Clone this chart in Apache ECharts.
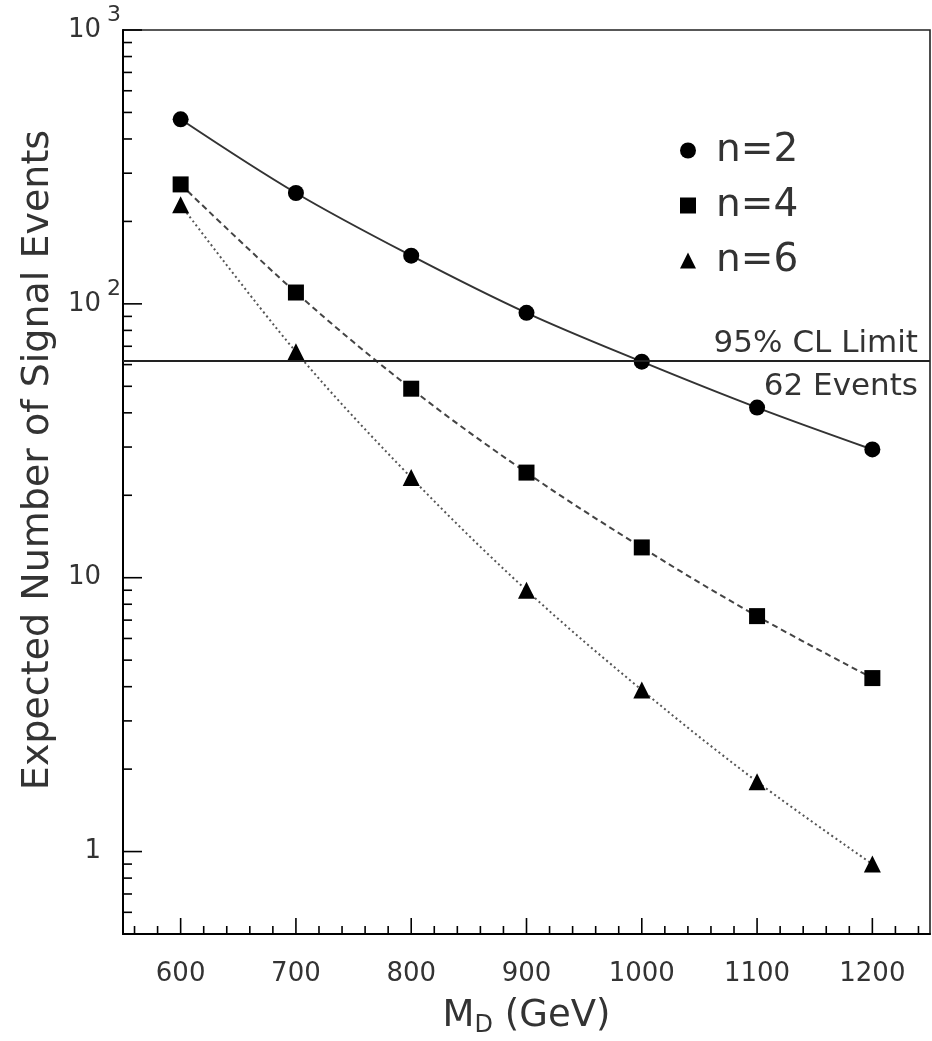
<!DOCTYPE html>
<html>
<head>
<meta charset="utf-8">
<script src="https://cdn.jsdelivr.net/npm/echarts@6/dist/echarts.min.js"></script>
<style>
  html, body { margin: 0; padding: 0; background: #fff; }
  #chart { width: 932px; height: 1041px; }
</style>
</head>
<body>
<div id="chart"></div>
<script>
// Mass scale M_D (GeV) and expected signal counts for n = 2, 4, 6 extra dimensions
const massGeV  = [600, 700, 800, 900, 1000, 1100, 1200];
const eventsN2 = [472, 254, 150, 92.7, 61.5, 41.8, 29.4];
const eventsN4 = [273, 110, 49.0, 24.2, 12.9, 7.24, 4.30];
const eventsN6 = [230, 66.8, 23.2, 9.0, 3.89, 1.80, 0.90];

// 95% CL upper limit on the number of signal events
const clLimit = 62;
const clLabelTop = '95% CL Limit';
const clLabelBottom = '62 Events';

// Axis ranges and tick labels
const xMin = 550, xMax = 1250;
const yMin = 0.5, yMax = 1000;
const xLabelValues = [600, 700, 800, 900, 1000, 1100, 1200];
const yLabelValues = [1, 10, 100, 1000];
const yLabelBase   = ['1', '10', '10', '10'];
const yLabelExp    = ['', '', '2', '3'];

const FONT = 'DejaVu Sans';
const TEXT = '#333';

// Tick marks: x every 20 GeV (major every 100), y at 1..9 x 10^k (major at powers of ten)
const xTicks = [];
for (let v = 560; v <= 1240; v += 20) xTicks.push([v, yMin, v % 100 === 0 ? 1 : 0]);
const yTicks = [];
[0.1, 1, 10, 100].forEach(dec => {
  for (let k = 1; k <= 9; k++) {
    const v = +(k * dec).toPrecision(3);
    if (v > yMin && v <= yMax) yTicks.push([xMin, v, k === 1 ? 1 : 0]);
  }
});
yTicks.push([xMin, 1000, 1]);

const pairs = ys => massGeV.map((x, i) => [x, ys[i]]);

function renderXTick(params, api) {
  const p = api.coord([api.value(0), api.value(1)]);
  const len = api.value(2) === 1 ? 16 : 8;
  return { type: 'line', shape: { x1: p[0], y1: p[1], x2: p[0], y2: p[1] - len },
           style: { stroke: '#000', lineWidth: 1.6 } };
}
function renderYTick(params, api) {
  const p = api.coord([api.value(0), api.value(1)]);
  const len = api.value(2) === 1 ? 19 : 9;
  return { type: 'line', shape: { x1: p[0], y1: p[1], x2: p[0] + len, y2: p[1] },
           style: { stroke: '#000', lineWidth: 1.6 } };
}
function renderYLabel(params, api) {
  const p = api.coord([api.value(0), api.value(1)]);
  const i = api.value(2);
  const children = [{
    type: 'text', x: p[0] - 22, y: p[1],
    style: { text: yLabelBase[i], align: 'right', verticalAlign: 'middle',
             fontSize: 26, fontFamily: FONT, fill: TEXT }
  }];
  if (yLabelExp[i]) {
    children.push({
      type: 'text', x: p[0] - 16, y: p[1] - 15,
      style: { text: yLabelExp[i], align: 'left', verticalAlign: 'middle',
               fontSize: 22, fontFamily: FONT, fill: TEXT }
    });
  }
  return { type: 'group', children };
}

const chart = echarts.init(document.getElementById('chart'), null, { renderer: 'canvas' });
chart.setOption({
  backgroundColor: '#fff',
  animation: false,
  grid: { left: 123, right: 2, top: 30, bottom: 107, show: true,
          containLabel: false, outerBoundsMode: 'none',
          borderColor: '#222', borderWidth: 1.6, backgroundColor: 'transparent' },
  legend: {
    orient: 'vertical', left: 675, top: 126,
    itemWidth: 16, itemHeight: 16, itemGap: 16, selectedMode: false,
    textStyle: { fontSize: 39, lineHeight: 39, fontFamily: FONT, color: TEXT, padding: [0, 0, 0, 15] },
    data: [
      { name: 'n=2', icon: 'circle' },
      { name: 'n=4', icon: 'rect' },
      { name: 'n=6', icon: 'triangle' }
    ]
  },
  xAxis: {
    type: 'value', min: xMin, max: xMax, interval: 50,
    name: '{m|M}{d|D}{m| (GeV)}', nameLocation: 'middle', nameGap: 60,
    nameTextStyle: {
      rich: {
        m: { fontSize: 37, fontFamily: FONT, color: TEXT, lineHeight: 44, verticalAlign: 'middle' },
        d: { fontSize: 24, fontFamily: FONT, color: TEXT, lineHeight: 24, verticalAlign: 'bottom' }
      }
    },
    axisLine: { show: true, lineStyle: { color: '#000', width: 2 } },
    axisTick: { show: false },
    splitLine: { show: false },
    axisLabel: {
      margin: 27, fontSize: 26, fontFamily: FONT, color: TEXT,
      formatter: v => (xLabelValues.indexOf(v) >= 0 ? String(v) : '')
    }
  },
  yAxis: {
    type: 'log', logBase: 10, min: yMin, max: yMax,
    name: 'Expected Number of Signal Events', nameLocation: 'middle', nameGap: 66,
    nameTextStyle: { fontSize: 38, fontFamily: FONT, color: TEXT, padding: [0, 0, 0, 44] },
    axisLine: { show: true, lineStyle: { color: '#000', width: 2 } },
    axisTick: { show: false },
    splitLine: { show: false },
    axisLabel: { show: false }
  },
  series: [
    {
      name: 'n=6', type: 'line', data: pairs(eventsN6), smooth: 0.35,
      symbol: 'triangle', symbolSize: 17,
      itemStyle: { color: '#000' },
      lineStyle: { color: '#555', width: 2, type: [2, 3] },
      z: 3
    },
    {
      name: 'n=4', type: 'line', data: pairs(eventsN4), smooth: 0.35,
      symbol: 'rect', symbolSize: 16,
      itemStyle: { color: '#000' },
      lineStyle: { color: '#444', width: 2, type: [6, 4] },
      z: 3
    },
    {
      name: 'n=2', type: 'line', data: pairs(eventsN2), smooth: 0.35,
      symbol: 'circle', symbolSize: 16,
      itemStyle: { color: '#000' },
      lineStyle: { color: '#333', width: 2, type: 'solid' },
      z: 4,
      markLine: {
        silent: true, symbol: 'none', animation: false,
        lineStyle: { color: '#222', width: 2, type: 'solid' },
        data: [
          { yAxis: clLimit, label: { show: true, position: 'insideEndTop', formatter: clLabelTop,
            fontSize: 31, fontFamily: FONT, color: TEXT, distance: [12, 1] } },
          { yAxis: clLimit, label: { show: true, position: 'insideEndBottom', formatter: clLabelBottom,
            fontSize: 31, fontFamily: FONT, color: TEXT, distance: [12, 11] } }
        ]
      }
    },
    { type: 'custom', silent: true, clip: false, renderItem: renderXTick, data: xTicks,
      encode: { x: 0, y: 1 }, z: 5 },
    { type: 'custom', silent: true, clip: false, renderItem: renderYTick, data: yTicks,
      encode: { x: 0, y: 1 }, z: 5 },
    { type: 'custom', silent: true, clip: false, renderItem: renderYLabel,
      data: yLabelValues.map((v, i) => [xMin, v, i]), encode: { x: 0, y: 1 }, z: 5 }
  ]
});
</script>
</body>
</html>
